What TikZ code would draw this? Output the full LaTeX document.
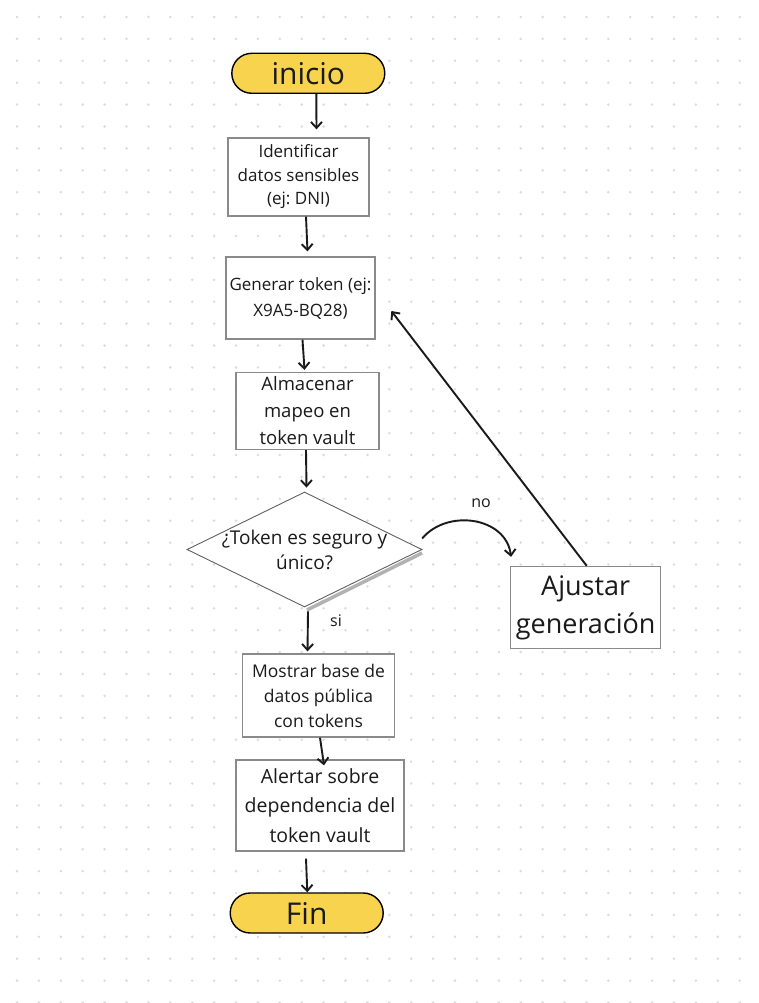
\documentclass[tikz,border=0pt]{standalone}
\usepackage{fontspec}
\setmainfont{Open Sans}
\frenchspacing
\usetikzlibrary{arrows.meta,shapes.geometric,calc}
\definecolor{termyellow}{HTML}{F8D34E}
\definecolor{boxgray}{HTML}{8A8A8A}
\definecolor{dotgray}{HTML}{DCDCDC}
\definecolor{txt}{HTML}{1A1A1A}
\begin{document}
\begin{tikzpicture}[x=1pt,y=-1pt,
  every node/.style={text=txt},
  proc/.style={draw=boxgray, line width=1.3pt, fill=white, align=center, inner sep=0pt},
  term/.style={draw=black, line width=1.4pt, fill=termyellow, rounded corners=20pt,
    minimum width=153pt, minimum height=40pt, inner sep=0pt, font={\fontsize{30}{30}\selectfont}},
  arr/.style={-{Straight Barb[length=6pt,width=11pt]}, line width=1.9pt, draw=txt},
  lbl/.style={font={\fontsize{16}{16}\selectfont}, inner sep=0pt}]
\useasboundingbox (0,0) rectangle (758,1003);
\fill[white] (0,0) rectangle (758,1003);
% dot grid
\foreach \i in {0,...,33}{
  \foreach \j in {0,...,45}{
    \fill[dotgray] (17+21.9*\i, 17+21.9*\j) circle (1.4pt);
  }
}
% nodes
\node[term] (start) at (308.3,73.3) {inicio};
\node[proc, minimum width=141pt, minimum height=78pt, font={\fontsize{17}{23.5}\selectfont}]
  (ident) at (298.5,177) {Identificar\\datos sensibles\\(ej: DNI)};
\node[proc, minimum width=149pt, minimum height=82pt, font={\fontsize{17}{26}\selectfont}]
  (gen) at (300.5,298) {Generar token (ej:\\X9A5-BQ28)};
\node[proc, minimum width=143pt, minimum height=77pt, font={\fontsize{18.5}{27}\selectfont}]
  (alm) at (307.5,411) {Almacenar\\mapeo en\\token vault};
% decision
\coordinate (dshadowA) at (422,553);
\coordinate (dshadowB) at (307,610);
\draw[gray!60, line width=3.5pt] (dshadowA) -- (dshadowB);
\node[diamond, draw=gray!75!black, line width=0.9pt, fill=white, minimum width=235pt,
  minimum height=115pt, inner sep=0pt] (dec) at (304.5,549.5) {};
\node[align=center, inner sep=0pt, font={\fontsize{19}{25}\selectfont}] (dectxt) at (dec.center)
  {¿Token es seguro y\\único?};
\node[proc, minimum width=150pt, minimum height=82pt, font={\fontsize{27}{38}\selectfont}]
  (adj) at (585.7,607.5) {Ajustar\\generación};
\node[proc, minimum width=152pt, minimum height=83pt, font={\fontsize{17.5}{25}\selectfont}]
  (most) at (318.5,695.5) {Mostrar base de\\datos pública\\con tokens};
\node[proc, minimum width=168pt, minimum height=91pt, font={\fontsize{19.5}{29.5}\selectfont}]
  (alert) at (320,805.5) {Alertar sobre\\dependencia del\\token vault};
\node[term] (fin) at (306.7,913) {Fin};
% labels
\node[lbl] (nolbl) at (481,503) {no};
\node[lbl] (silbl) at (336,621) {si};
% connectors
\draw[arr] ($(start.south)+(8,0)$) -- ($(ident.north)+(18,-8)$);
\draw[arr] ($(ident.south)+(7.5,0)$) -- ($(gen.north)+(7,-5)$);
\draw[arr] ($(gen.south)+(2,0)$) -- ($(alm.north)+(-3,-2)$);
\draw[arr] ($(alm.south)+(-1.5,0)$) -- ($(dec.north)+(2,-4)$);
\draw[arr] ($(dec.south)+(3.5,4)$) -- ($(most.north)+(-11,-2)$);
\draw[arr] ($(most.south)+(1.5,0)$) -- ($(alert.north)+(4,6)$);
\draw[arr] ($(alert.south)+(-14,7)$) -- ($(fin.north)+(0.6,0)$);
\draw[arr] ($(dec.east)+(-0.3,-11)$) .. controls +(25,-30) and +(-5,-40) .. ($(adj.north west)+(1,-9)$);
\draw[arr] ($(adj.north)+(1,0)$) -- ($(gen.east)+(15.7,13)$);
\end{tikzpicture}
\end{document}
